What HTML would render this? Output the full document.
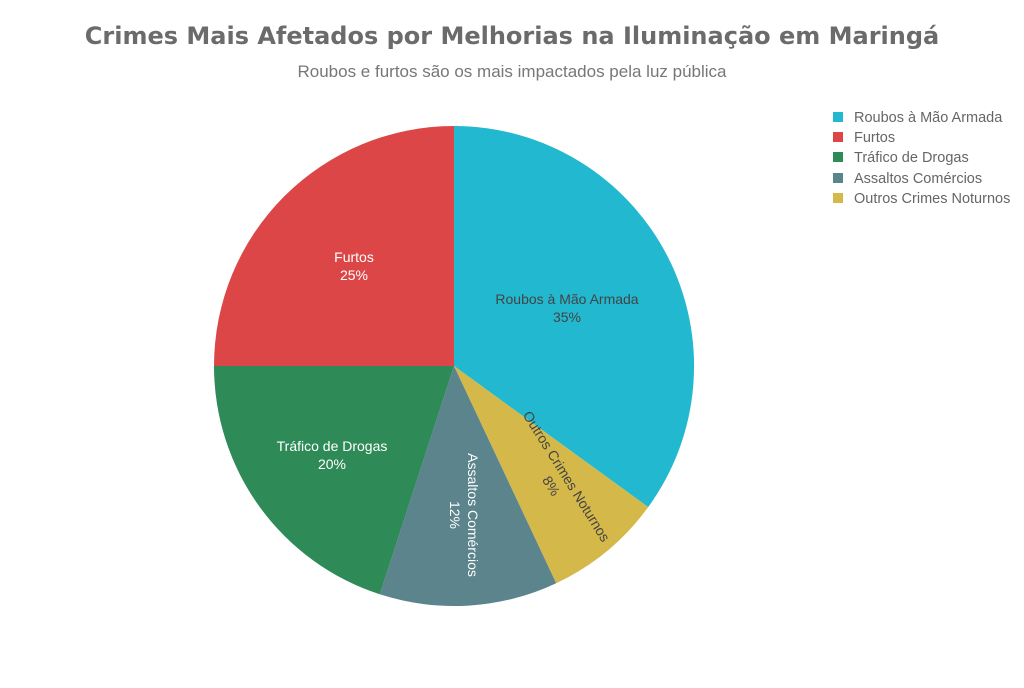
<!DOCTYPE html>
<html><head><meta charset="utf-8"><style>
body{margin:0;background:#fff;width:1024px;height:683px;overflow:hidden}
svg{font-family:"Liberation Sans","DejaVu Sans",sans-serif}
</style></head><body>
<svg width="1024" height="683" viewBox="0 0 1024 683">
<text x="512" y="44" text-anchor="middle" font-size="24" font-weight="bold" fill="#6b6b6b" font-family="'DejaVu Sans','Liberation Sans',sans-serif">Crimes Mais Afetados por Melhorias na Iluminação em Maringá</text>
<text x="512" y="77" text-anchor="middle" font-size="17" fill="#777">Roubos e furtos são os mais impactados pela luz pública</text>
<path d="M454,366 L454,126 A240,240 0 0 1 648.2,507.1 Z" fill="#22b8cf"/>
<path d="M454,366 L648.2,507.1 A240,240 0 0 1 556.2,583.2 Z" fill="#d4b94a"/>
<path d="M454,366 L556.2,583.2 A240,240 0 0 1 379.8,594.3 Z" fill="#5b848c"/>
<path d="M454,366 L379.8,594.3 A240,240 0 0 1 214,366 Z" fill="#2e8a57"/>
<path d="M454,366 L214,366 A240,240 0 0 1 454,126 Z" fill="#dc4646"/>
<g font-size="14" text-anchor="middle">
<text x="567" y="304" fill="#444">Roubos à Mão Armada</text>
<text x="567" y="322" fill="#444">35%</text>
<text x="354" y="262" fill="#fff">Furtos</text>
<text x="354" y="280" fill="#fff">25%</text>
<text x="332" y="451" fill="#fff">Tráfico de Drogas</text>
<text x="332" y="469" fill="#fff">20%</text>
<g transform="translate(464,515) rotate(90)"><text x="0" y="-4" fill="#fff">Assaltos Comércios</text><text x="0" y="14" fill="#fff">12%</text></g>
<g transform="translate(559,481) rotate(58)"><text x="0" y="-4" fill="#444">Outros Crimes Noturnos</text><text x="0" y="14" fill="#444">8%</text></g>
</g>
<g font-size="14.5" fill="#666">
<rect x="833" y="112" width="10" height="10" fill="#22b8cf"/><text x="854" y="122">Roubos à Mão Armada</text>
<rect x="833" y="132" width="10" height="10" fill="#dc4646"/><text x="854" y="142">Furtos</text>
<rect x="833" y="152" width="10" height="10" fill="#2e8a57"/><text x="854" y="162">Tráfico de Drogas</text>
<rect x="833" y="173" width="10" height="10" fill="#5b848c"/><text x="854" y="183">Assaltos Comércios</text>
<rect x="833" y="193" width="10" height="10" fill="#d4b94a"/><text x="854" y="203">Outros Crimes Noturnos</text>
</g>
</svg>
</body></html>
